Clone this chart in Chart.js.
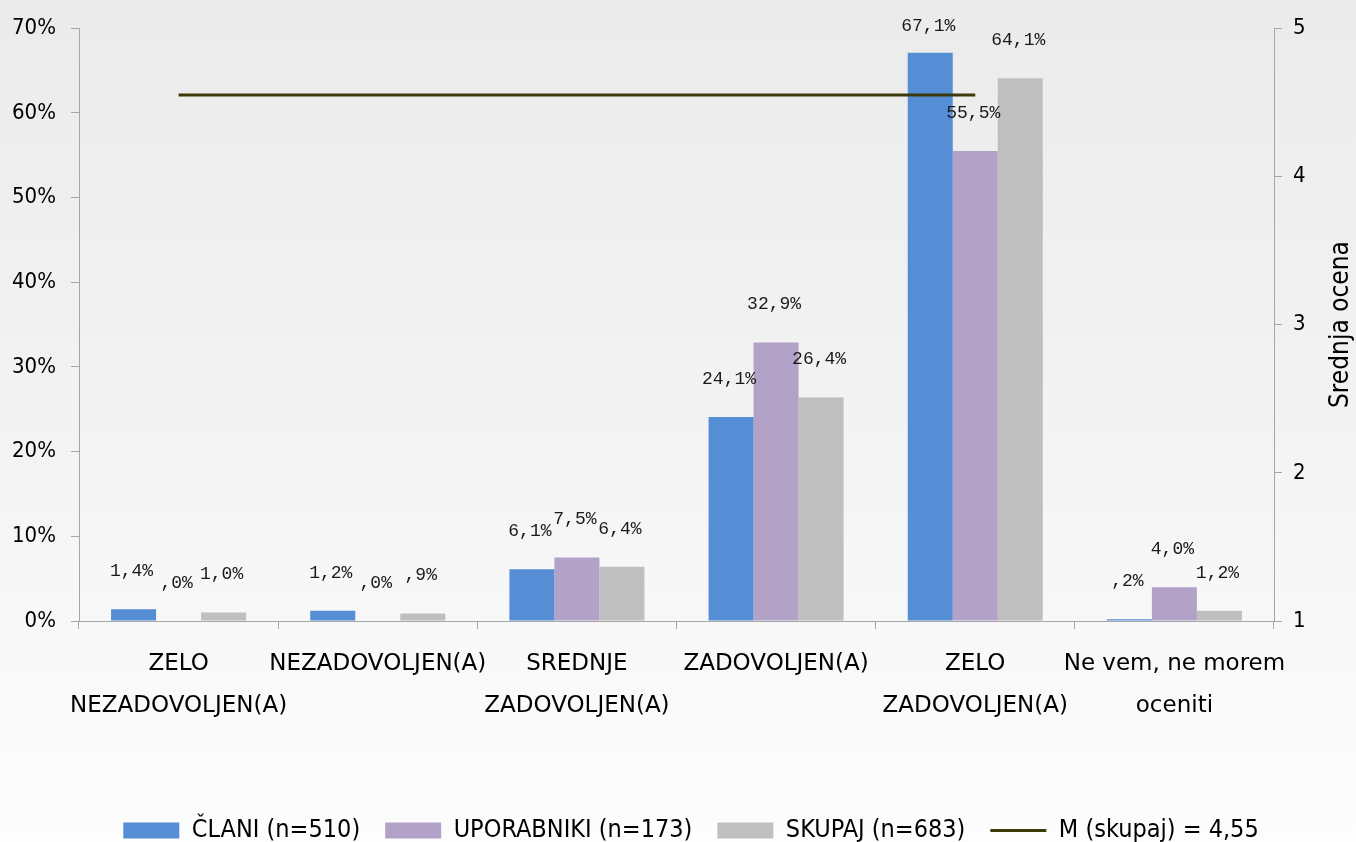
<!DOCTYPE html>
<html>
<head>
<meta charset="utf-8">
<script src="https://cdn.jsdelivr.net/npm/chart.js@4"></script>
<style>
  html, body { margin: 0; padding: 0; }
  body { width: 1356px; height: 842px; background: linear-gradient(to bottom, #ebebeb 0%, #f3f3f3 50%, #fdfdfd 100%); }
  #chart { display: block; }
</style>
</head>
<body>
<canvas id="chart" width="1356" height="842"></canvas>
<script>
// Kategorije (x os)
const categories = [
  ['ZELO', 'NEZADOVOLJEN(A)'],
  'NEZADOVOLJEN(A)',
  ['SREDNJE', 'ZADOVOLJEN(A)'],
  'ZADOVOLJEN(A)',
  ['ZELO', 'ZADOVOLJEN(A)'],
  ['Ne vem, ne morem', 'oceniti']
];
// Deleži v %
const clani = [1.4, 1.2, 6.1, 24.1, 67.1, 0.2];
const uporabniki = [0.0, 0.0, 7.5, 32.9, 55.5, 4.0];
const skupaj = [1.0, 0.9, 6.4, 26.4, 64.1, 1.2];
// Povprečna ocena (desna os)
const mean = [4.55, 4.55, 4.55, 4.55, 4.55, null];

const seriesNames = ['ČLANI (n=510)', 'UPORABNIKI (n=173)', 'SKUPAJ (n=683)', 'M (skupaj) = 4,55'];
const axisTitle = 'Srednja ocena';

const COND = '"DejaVu Sans Condensed", "DejaVu Sans", sans-serif';
const SANS = '"DejaVu Sans", sans-serif';
const AXIS_COLOR = '#a6a6a6';

// Oblika oznake: 0.2 -> ",2%", 24.1 -> "24,1%"
function fmt(v) {
  let s = v.toFixed(1).replace('.', ',');
  if (s.startsWith('0,')) s = s.slice(1);
  return s + '%';
}

// Oznake nad stolpci (ostanejo znotraj območja grafa)
const barLabels = {
  id: 'barLabels',
  afterDatasetsDraw(chart) {
    const ctx = chart.ctx;
    const top = chart.chartArea.top;
    ctx.save();
    ctx.font = '18px "Liberation Mono", "DejaVu Sans Mono", monospace';
    ctx.fillStyle = '#1a1a1a';
    ctx.textAlign = 'center';
    ctx.textBaseline = 'middle';
    chart.data.datasets.forEach((ds, i) => {
      if (ds.type === 'line') return;
      const meta = chart.getDatasetMeta(i);
      meta.data.forEach((bar, j) => {
        const y = Math.max(bar.y - 38, top - 2);
        ctx.fillText(fmt(ds.data[j]), bar.x - 2, y);
      });
    });
    ctx.restore();
  }
};

// Naslov desne osi (bere se od spodaj navzgor)
const rightTitle = {
  id: 'rightTitle',
  afterDraw(chart) {
    const ctx = chart.ctx;
    const area = chart.chartArea;
    ctx.save();
    ctx.translate(1341, (area.top + area.bottom) / 2);
    ctx.rotate(-Math.PI / 2);
    ctx.font = '26px ' + COND;
    ctx.fillStyle = '#000';
    ctx.textAlign = 'center';
    ctx.textBaseline = 'middle';
    ctx.fillText(axisTitle, 0, 0);
    ctx.restore();
  }
};

// Legenda malo bolj desno, kot v originalu
const legendShift = {
  id: 'legendShift',
  afterLayout(chart) {
    if (!chart.legend) return;
    chart.legend.left += 13;
    chart.legend.right += 13;
  }
};

new Chart(document.getElementById('chart'), {
  type: 'bar',
  data: {
    labels: categories,
    datasets: [
      { label: seriesNames[0], data: clani, backgroundColor: '#558ed5', borderWidth: 0, pointStyle: 'rect', yAxisID: 'y', order: 2 },
      { label: seriesNames[1], data: uporabniki, backgroundColor: '#b3a2c7', borderWidth: 0, pointStyle: 'rect', yAxisID: 'y', order: 2 },
      { label: seriesNames[2], data: skupaj, backgroundColor: '#bfbfbf', borderWidth: 0, pointStyle: 'rect', yAxisID: 'y', order: 2 },
      {
        type: 'line', label: seriesNames[3], data: mean, yAxisID: 'y2', order: 1,
        borderColor: '#3a3a0a', backgroundColor: '#3a3a0a', borderWidth: 3,
        pointRadius: 0, pointHoverRadius: 0, pointStyle: 'line', pointBorderWidth: 3,
        fill: false, spanGaps: false
      }
    ]
  },
  options: {
    responsive: false,
    animation: false,
    devicePixelRatio: 1,
    categoryPercentage: 0.678,
    barPercentage: 1.0,
    layout: { padding: { top: 27, right: 0, bottom: -11, left: 0 } },
    plugins: {
      tooltip: { enabled: false },
      legend: {
        position: 'bottom',
        labels: {
          usePointStyle: true,
          pointStyleWidth: 56,
          boxHeight: 16,
          padding: 25,
          color: '#000',
          font: { family: COND, size: 25 },
          sort: (a, b) => a.datasetIndex - b.datasetIndex
        }
      }
    },
    scales: {
      x: {
        grid: { display: true, drawOnChartArea: false, drawTicks: true, tickLength: 8, color: AXIS_COLOR, offset: true },
        border: { color: AXIS_COLOR },
        ticks: { color: '#000', padding: 14, maxRotation: 0, autoSkip: false, font: { family: SANS, size: 23, lineHeight: 42 / 23 } },
        afterFit(scale) { scale.height = 172; }
      },
      y: {
        position: 'left',
        min: 0, max: 70,
        grid: { drawOnChartArea: false, tickLength: 8, color: AXIS_COLOR },
        border: { color: AXIS_COLOR },
        ticks: { stepSize: 10, padding: 15, color: '#000', font: { family: COND, size: 22 }, callback: v => v + '%' },
        afterFit(scale) { scale.width = 79; }
      },
      y2: {
        position: 'right',
        min: 1, max: 5,
        grid: { drawOnChartArea: false, tickLength: 8, color: AXIS_COLOR },
        border: { color: AXIS_COLOR },
        ticks: { stepSize: 1, padding: 11, color: '#000', font: { family: COND, size: 22 } },
        afterFit(scale) { scale.width = 82; }
      }
    }
  },
  plugins: [barLabels, rightTitle, legendShift]
});
</script>
</body>
</html>
